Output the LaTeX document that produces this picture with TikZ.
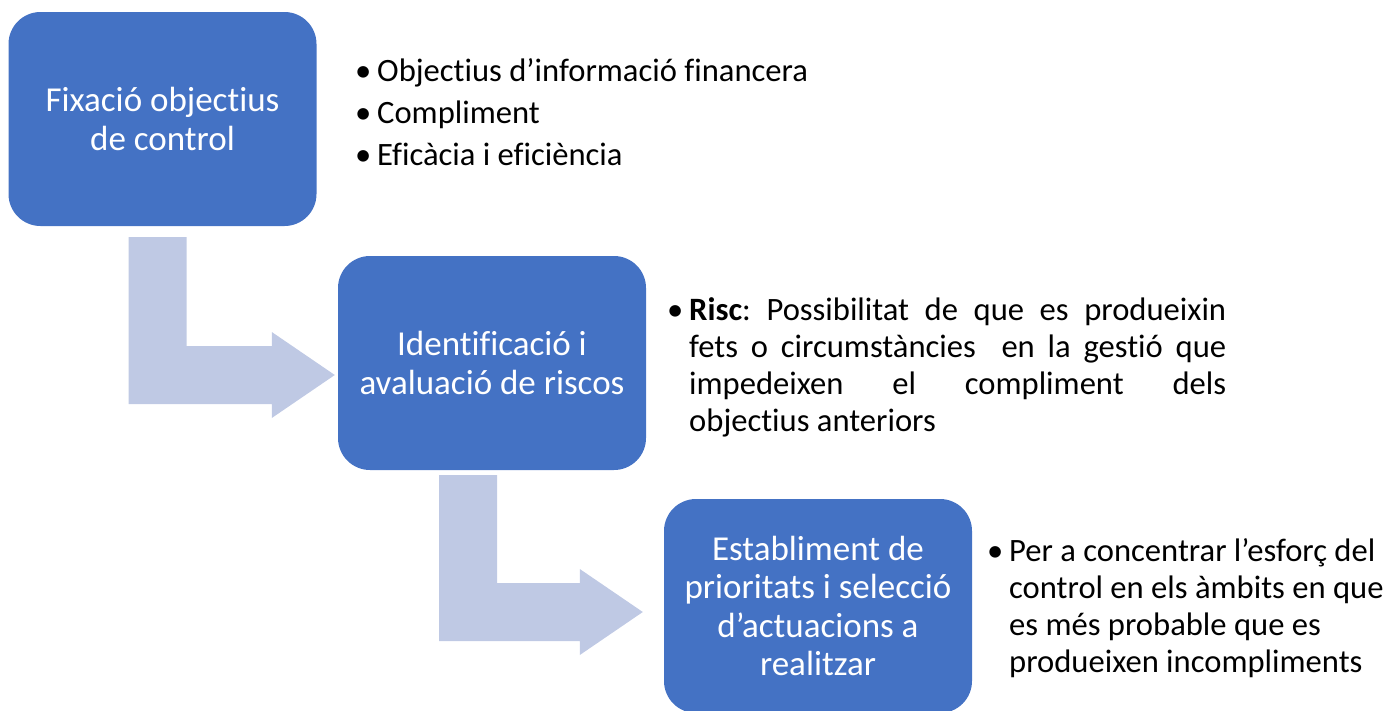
\documentclass[tikz,border=0pt]{standalone}
\usepackage{fontspec}
\setmainfont{Carlito}[Ligatures=CommonOff]
\usetikzlibrary{calc}
\definecolor{boxblue}{HTML}{4472C4}
\definecolor{bendblue}{HTML}{BFC9E4}
\tikzset{
    stage/.style={fill=boxblue, rounded corners=32pt, minimum width=308pt, minimum height=214pt,
        inner sep=0pt, text=white, align=center, font=\fontsize{35}{38.5}\selectfont},
    notes/.style={anchor=north west, inner sep=0pt, font=\fontsize{32.6}{37}\selectfont\frenchspacing},
    bendfill/.style={fill=bendblue}
}
\newcommand{\bull}{\makebox[19pt][l]{\hspace{-3pt}•}}
\newcommand{\hangbull}{\noindent\llap{\bull}}
% #1 top left corner of the bar, #2 tip of the head
\newcommand{\bendarrow}[2]{%
    \fill[bendfill] (#1) -- ++(58,0) |- ($(#2)+(-63,-29)$) -- ++(0,-14) -- (#2)
        -- ($(#2)+(-63,43)$) -- ++(0,-14) -| (#1) -- cycle;
}

\begin{document}
\begin{tikzpicture}[x=1pt, y=-1pt]
        \useasboundingbox (0,0) rectangle (1390,710);
        \node[stage] (fix) at (162.5,119) {Fixació objectius\\de control};
        \node[stage] (ident) at (492,363) {Identificació i\\avaluació de riscos};
        \node[stage] (est) at (818,606) {Establiment de\\prioritats i selecció\\d’actuacions a\\realitzar};
        \coordinate (a1) at ($(fix.south)+(-34,11)$);
        \coordinate (t1) at ($(ident.west)+(-3,12)$);
        \coordinate (a2) at ($(ident.south)+(-53,5)$);
        \coordinate (t2) at ($(est.west)+(-21,6)$);
        \bendarrow{a1}{t1}
        \bendarrow{a2}{t2}
        \node[notes, align=left] (goals) at (358,58)
            {\bull Objectius d’informació financera\\[5pt]\bull Compliment\\[5pt]\bull Eficàcia i eficiència};
        \node[notes, text width=537pt, align=justify] (risk) at (689,297)
            {\tolerance=9999\hangbull\textbf{Risc}: Possibilitat de que es produeixin\linebreak
            fets o circumstàncies\ \ en la gestió que\linebreak impedeixen el compliment dels\linebreak objectius anteriors};
        \node[notes, text width=380pt, align=flush left] (why) at (1009,538)
            {\baselineskip=37.5pt\hangbull Per a concentrar l’esforç del\linebreak
            control en els àmbits en que\linebreak es més probable que es\linebreak produeixen incompliments};
    \end{tikzpicture}
\end{document}
